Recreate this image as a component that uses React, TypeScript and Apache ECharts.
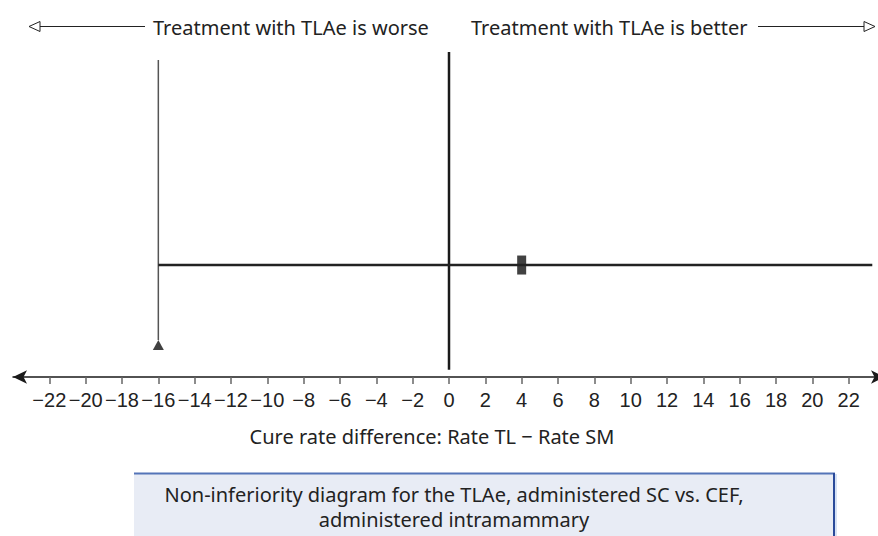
import React, { useEffect, useRef } from "react";
import * as echarts from "echarts";

// ---- data ----
const tickValues: number[] = [-22, -20, -18, -16, -14, -12, -10, -8, -6, -4, -2, 0, 2, 4, 6, 8, 10, 12, 14, 16, 18, 20, 22];
const nonInferiorityMargin = -16;
const pointEstimate = 4;
const ciLower = -16;
const ciUpper = 23.3;
const ciLevel = 2.97;
const zeroLineSpan = [0.19, 8.62];
const marginLineSpan = [0.98, 8.41];
const marginMarkerLevel = 0.85;

const leftLabel = "Treatment with TLAe is worse";
const rightLabel = "Treatment with TLAe is better";
const axisTitle = "Cure rate difference: Rate TL \u2212 Rate SM";
const captionLines = ["Non-inferiority diagram for the TLAe, administered SC vs. CEF,", "administered intramammary"];

const TEXT_FONT = "'Noto Sans', sans-serif";
const TICK_FONT = "'Liberation Sans', Arial, sans-serif";

export default function App() {
  const ref = useRef<HTMLDivElement>(null);
  useEffect(() => {
    if (!ref.current) return;
    const chart = echarts.init(ref.current, undefined, { renderer: "svg" });
    const option: any = {
      animation: false,
      backgroundColor: "#ffffff",
      grid: { left: 13, top: 0, width: 872, height: 377, containLabel: false, outerBoundsMode: "none" },
      xAxis: {
        type: "value",
        min: -24,
        max: 24,
        splitLine: { show: false },
        axisLine: {
          show: true,
          onZero: false,
          symbol: ["arrow", "arrow"],
          symbolSize: [10, 14],
          lineStyle: { color: "#1a1a1a", width: 1.5 },
        },
        axisTick: {
          show: true,
          customValues: tickValues,
          length: 7,
          lineStyle: { color: "#666", width: 1.5 },
        },
        axisLabel: {
          show: true,
          customValues: tickValues,
          margin: 13,
          color: "#222",
          fontFamily: TICK_FONT,
          fontSize: 20,
          formatter: (v: number) => String(v).replace("-", "\u2212"),
        },
      },
      yAxis: { type: "value", min: 0, max: 10, show: false },
      series: [
        {
          type: "line",
          data: [[0, zeroLineSpan[0]], [0, zeroLineSpan[1]]],
          symbol: "none",
          lineStyle: { color: "#1a1a1a", width: 2.5 },
          silent: true,
        },
        {
          type: "line",
          data: [[nonInferiorityMargin, marginLineSpan[0]], [nonInferiorityMargin, marginLineSpan[1]]],
          symbol: "none",
          lineStyle: { color: "#555", width: 1.5 },
          silent: true,
        },
        {
          type: "line",
          data: [[ciLower, ciLevel], [ciUpper, ciLevel]],
          symbol: "none",
          lineStyle: { color: "#222", width: 2.5 },
          silent: true,
        },
        {
          type: "scatter",
          data: [[pointEstimate, ciLevel]],
          symbol: "rect",
          symbolSize: [9, 19],
          itemStyle: { color: "#111" },
          silent: true,
        },
        {
          type: "scatter",
          data: [[nonInferiorityMargin, marginMarkerLevel]],
          symbol: "triangle",
          symbolSize: [11, 10],
          itemStyle: { color: "#111" },
          silent: true,
        },
      ],
      graphic: [
        // top-left annotation
        { type: "polygon", shape: { points: [[29, 26.5], [40, 21.5], [40, 31.5]] }, style: { fill: "#fff", stroke: "#222", lineWidth: 1 } },
        { type: "line", shape: { x1: 40, y1: 26.5, x2: 145, y2: 26.5 }, style: { stroke: "#222", lineWidth: 1 } },
        { type: "text", x: 153, y: 27, style: { text: leftLabel, fontFamily: TEXT_FONT, fontSize: 20, fill: "#222", verticalAlign: "middle", align: "left" } },
        // top-right annotation
        { type: "text", x: 471, y: 27, style: { text: rightLabel, fontFamily: TEXT_FONT, fontSize: 20, fill: "#222", verticalAlign: "middle", align: "left" } },
        { type: "line", shape: { x1: 758, y1: 26.5, x2: 864, y2: 26.5 }, style: { stroke: "#222", lineWidth: 1 } },
        { type: "polygon", shape: { points: [[875, 26.5], [864, 21.5], [864, 31.5]] }, style: { fill: "#fff", stroke: "#222", lineWidth: 1 } },
        // axis title
        { type: "text", x: 432, y: 436, style: { text: axisTitle, fontFamily: TEXT_FONT, fontSize: 20, fill: "#222", verticalAlign: "middle", align: "center" } },
        // caption box
        { type: "rect", shape: { x: 134, y: 473, width: 701, height: 80 }, style: { fill: "#e8ecf5", stroke: "none" } },
        { type: "line", shape: { x1: 134, y1: 473.5, x2: 835, y2: 473.5 }, style: { stroke: "#5474b8", lineWidth: 2 } },
        { type: "line", shape: { x1: 834, y1: 473, x2: 834, y2: 540 }, style: { stroke: "#2a4a9a", lineWidth: 2 } },
        { type: "line", shape: { x1: 836, y1: 474, x2: 836, y2: 540 }, style: { stroke: "#c9d8f2", lineWidth: 1.5 } },
        {
          type: "text",
          x: 454,
          y: 507,
          style: {
            text: captionLines.join("\n"),
            fontFamily: TEXT_FONT,
            fontSize: 20,
            lineHeight: 25,
            fill: "#222",
            verticalAlign: "middle",
            align: "center",
          },
        },
      ],
    };
    chart.setOption(option);
    return () => chart.dispose();
  }, []);
  return <div ref={ref} style={{ position: "fixed", left: 0, top: 0, width: 878, height: 536 }} />;
}
